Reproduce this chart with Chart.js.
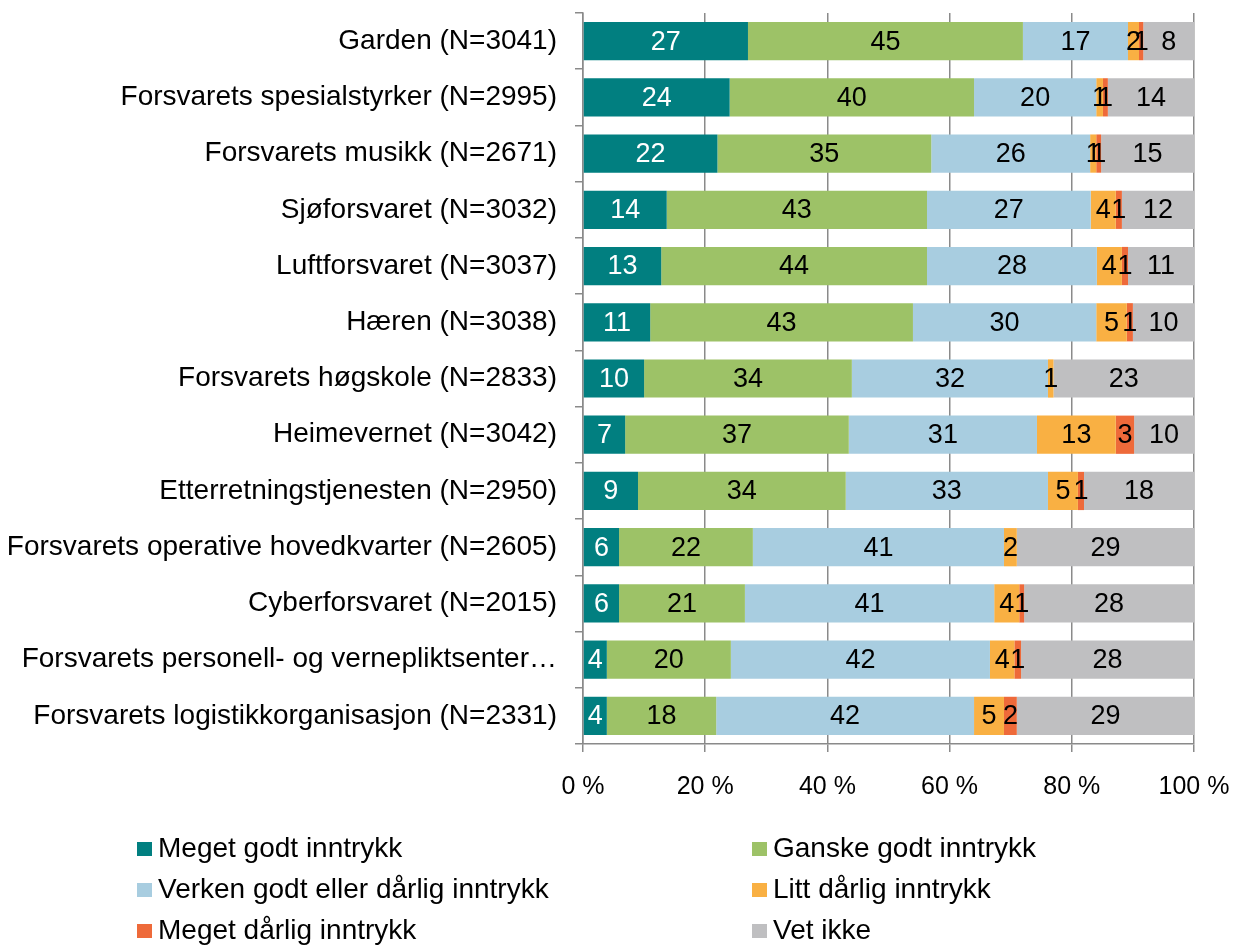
<!DOCTYPE html>
<html>
<head>
<meta charset="utf-8">
<script src="https://cdn.jsdelivr.net/npm/chart.js@4/dist/chart.umd.min.js"></script>
<style>
html,body{margin:0;padding:0;background:#fff;}
#wrap{width:1244px;height:946px;position:relative;}
</style>
</head>
<body>
<div id="wrap"><canvas id="c" width="1244" height="946"></canvas></div>
<script>
const categories = [
  "Garden (N=3041)",
  "Forsvarets spesialstyrker (N=2995)",
  "Forsvarets musikk (N=2671)",
  "Sjøforsvaret (N=3032)",
  "Luftforsvaret (N=3037)",
  "Hæren (N=3038)",
  "Forsvarets høgskole (N=2833)",
  "Heimevernet (N=3042)",
  "Etterretningstjenesten (N=2950)",
  "Forsvarets operative hovedkvarter (N=2605)",
  "Cyberforsvaret (N=2015)",
  "Forsvarets personell- og vernepliktsenter…",
  "Forsvarets logistikkorganisasjon (N=2331)"
];
const seriesNames = [
  "Meget godt inntrykk",
  "Ganske godt inntrykk",
  "Verken godt eller dårlig inntrykk",
  "Litt dårlig inntrykk",
  "Meget dårlig inntrykk",
  "Vet ikke"
];
const megetGodt   = [27, 24, 22, 13.7, 12.8, 11, 10, 6.9, 9, 5.9, 5.9, 3.9, 3.9];
const ganskeGodt  = [45, 40, 35, 42.6, 43.5, 43, 34, 36.6, 34, 21.9, 20.6, 20.3, 17.9];
const verken      = [17.2, 20, 26, 26.8, 27.8, 30, 32.1, 30.8, 33.1, 41.1, 40.8, 42.4, 42.2];
const littDarlig  = [1.8, 1.1, 1, 4.1, 4.1, 5, 0.9, 12.9, 4.9, 2.1, 4.1, 4.0, 4.9];
const megetDarlig = [0.7, 0.8, 0.8, 1.0, 1.0, 1, 0, 3.0, 1, 0, 0.8, 1.1, 2.1];
const vetIkke     = [8.3, 14.1, 15.2, 11.8, 10.8, 10, 23, 9.8, 18, 29, 27.8, 28.3, 29.0];
const xTicks = [0, 20, 40, 60, 80, 100];

const colors = ["#017F80", "#9DC267", "#A8CDE0", "#F9B043", "#EE6A3A", "#BFBFC1"];
const labelColors = ["#ffffff", "#000000", "#000000", "#000000", "#000000", "#000000"];
const seriesData = [megetGodt, ganskeGodt, verken, littDarlig, megetDarlig, vetIkke];
const FONT = '"Liberation Sans", Arial, sans-serif';

const valueLabels = {
  id: 'valueLabels',
  afterDatasetsDraw(chart) {
    const ctx = chart.ctx;
    ctx.save();
    ctx.font = '27px ' + FONT;
    ctx.textAlign = 'center';
    ctx.textBaseline = 'middle';
    chart.data.datasets.forEach((ds, i) => {
      const meta = chart.getDatasetMeta(i);
      meta.data.forEach((el, j) => {
        const v = Math.round(ds.data[j]);
        if (!v) return;
        ctx.fillStyle = labelColors[i];
        ctx.fillText(String(v), (el.x + el.base) / 2, el.y + 1);
      });
    });
    ctx.restore();
  }
};

const bottomLegend = {
  id: 'bottomLegend',
  afterDraw(chart) {
    const ctx = chart.ctx;
    ctx.save();
    ctx.font = '28px ' + FONT;
    ctx.textBaseline = 'middle';
    ctx.textAlign = 'left';
    const colX = [137, 752];
    const rowY = [849, 890, 931];
    chart.data.datasets.forEach((ds, i) => {
      const x = colX[i % 2], y = rowY[Math.floor(i / 2)];
      ctx.fillStyle = ds.backgroundColor;
      ctx.fillRect(x, y - 7, 15, 14);
      ctx.fillStyle = '#000';
      ctx.fillText(ds.label, x + 21, y);
    });
    ctx.restore();
  }
};

new Chart(document.getElementById('c'), {
  type: 'bar',
  data: {
    labels: categories,
    datasets: seriesNames.map((n, i) => ({
      label: n,
      data: seriesData[i],
      backgroundColor: colors[i],
      borderWidth: 0,
      categoryPercentage: 0.68,
      barPercentage: 1.0
    }))
  },
  options: {
    indexAxis: 'y',
    responsive: false,
    animation: false,
    layout: { padding: { top: 13, right: 50, bottom: 152, left: 0 } },
    plugins: { legend: { display: false }, tooltip: { enabled: false } },
    scales: {
      x: {
        stacked: true,
        min: 0, max: 100,
        afterFit(s) { s.height = 50; s.paddingLeft = 0; s.paddingRight = 0; },
        afterBuildTicks(s) { s.ticks = xTicks.map(v => ({ value: v })); },
        ticks: {
          color: '#000',
          font: { size: 25, family: FONT },
          padding: 20,
          callback: v => v + ' %'
        },
        grid: { color: '#8a8a8a', lineWidth: 1.5, tickLength: 8, drawOnChartArea: true },
        border: { color: '#8a8a8a', width: 1.5 }
      },
      y: {
        stacked: true,
        afterFit(s) { s.width = 583; s.paddingTop = 0; s.paddingBottom = 0; },
        ticks: { color: '#000', font: { size: 28, family: FONT }, padding: 18, autoSkip: false },
        grid: { offset: true, drawOnChartArea: false, color: '#8a8a8a', lineWidth: 1.5, tickLength: 8 },
        border: { color: '#8a8a8a', width: 1.5 }
      }
    }
  },
  plugins: [valueLabels, bottomLegend]
});
</script>
</body>
</html>
